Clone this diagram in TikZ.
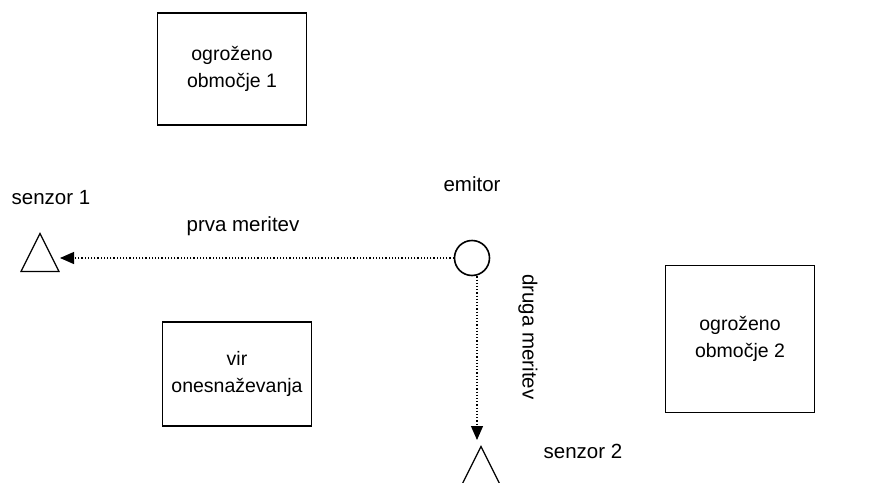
\documentclass[tikz,border=0pt]{standalone}
\usepackage{fontspec}
\setmainfont{Liberation Sans}
\usetikzlibrary{arrows.meta,shapes.geometric}
\begin{document}
\begin{tikzpicture}[x=1pt,y=-1pt,
  zone/.style={draw,line width=1.4pt,minimum width=149pt,align=center,font=\fontsize{19.5}{27}\selectfont},
  sensor/.style={draw,line width=1.2pt,isosceles triangle,isosceles triangle stretches,shape border rotate=90,minimum width=38pt,minimum height=38pt,inner sep=0pt},
  lbl/.style={font=\fontsize{20.5}{24}\selectfont,inner sep=0pt},
  meas/.style={dotted,line width=1.2pt,-{Triangle[length=14pt,width=12pt]}}]
\useasboundingbox (0,0) rectangle (870,482);
% zones
\node[zone,minimum height=112pt] (z1) at (232,69) {ogroženo\\območje 1};
\node[zone,minimum height=147pt] (z2) at (740,339) {ogroženo\\območje 2};
\node[zone,minimum height=104pt] (src) at (237,374) {vir\\onesnaževanja};
% emitter
\node[draw,circle,line width=1.6pt,minimum size=35pt,inner sep=0pt] (em) at (472,258) {};
\node[lbl] (emlbl) at (472,184) {emitor};
% sensors
\node[sensor,anchor=apex] (s1) at (40,232) {};
\node[sensor,anchor=apex] (s2) at (481,445) {};
\node[lbl] (s1lbl) at (51,198) {senzor 1};
\node[lbl] (s2lbl) at (583,451) {senzor 2};
% measurements
\coordinate (t1) at (60,258);
\coordinate (t2) at (477,440);
\draw[meas] (em.west) -- (t1);
\draw[meas] (em.south -| t2) -- (t2);
\node[lbl] (m1) at (243,226) {prva meritev};
\node[lbl,rotate=-90] (m2) at (528,337) {druga meritev};
\end{tikzpicture}
\end{document}
